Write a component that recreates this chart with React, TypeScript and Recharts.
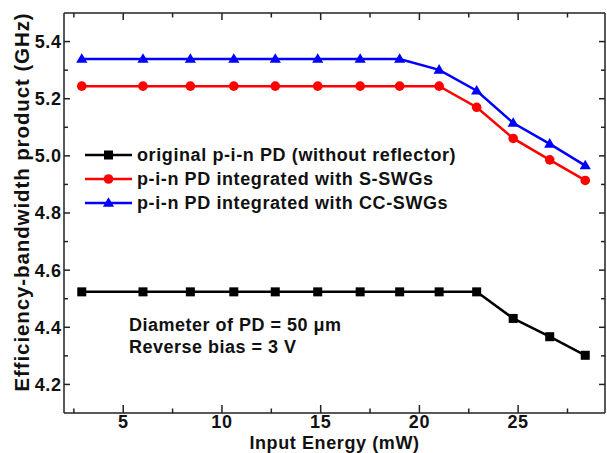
import React from 'react';
import { LineChart, Line, XAxis, YAxis, Legend } from 'recharts';

// ---- data ----
const inputEnergy = [2.9, 6.0, 8.4, 10.6, 12.7, 14.85, 17.0, 19.0, 21.0, 22.9, 24.75, 26.6, 28.4];
const originalPD = [4.524, 4.524, 4.524, 4.524, 4.524, 4.524, 4.524, 4.524, 4.524, 4.524, 4.431, 4.367, 4.302];
const sSWG = [5.244, 5.244, 5.244, 5.244, 5.244, 5.244, 5.244, 5.244, 5.244, 5.17, 5.061, 4.986, 4.914];
const ccSWG = [5.339, 5.339, 5.339, 5.339, 5.339, 5.339, 5.339, 5.339, 5.301, 5.228, 5.115, 5.042, 4.966];

const seriesNames = [
  'original p-i-n PD (without reflector)',
  'p-i-n PD integrated with S-SWGs',
  'p-i-n PD integrated with CC-SWGs',
];
const seriesKeys = ['orig', 'ssw', 'ccsw'];
const seriesColors = ['#000000', '#ff0000', '#0000ff'];

const xTicks = [2.5, 5, 7.5, 10, 12.5, 15, 17.5, 20, 22.5, 25, 27.5];
const xTickLabels = [5, 10, 15, 20, 25];
const yTicks = [4.2, 4.3, 4.4, 4.5, 4.6, 4.7, 4.8, 4.9, 5.0, 5.1, 5.2, 5.3, 5.4];
const yTickLabels = [4.2, 4.4, 4.6, 4.8, 5.0, 5.2, 5.4];
const xDomain = [2, 29.4];
const yDomain = [4.1, 5.5];

const xTitle = 'Input Energy (mW)';
const yTitle = 'Efficiency-bandwidth product (GHz)';
const noteLines = ['Diameter of PD = 50 \u03bcm', 'Reverse bias = 3 V'];

const data = inputEnergy.map((x, i) => ({ x, orig: originalPD[i], ssw: sSWG[i], ccsw: ccSWG[i] }));

// ---- styles ----
const FONT = "'Liberation Sans', Arial, Helvetica, sans-serif";
const AX = '#222222';
const textStyle: React.CSSProperties = {
  fontFamily: FONT,
  fontWeight: 700,
  fontSize: 18,
  letterSpacing: '0.6px',
  fill: '#111111',
};

const inList = (v: number, list: number[]) => list.some((l) => Math.abs(l - v) < 1e-6);

const BottomTick = (p: any) => {
  const { x, y, payload } = p;
  const v = Number(payload.value);
  const major = inList(v, xTickLabels);
  return (
    <g>
      <line x1={x} x2={x} y1={y} y2={y - (major ? 8 : 4.5)} stroke={AX} strokeWidth={1.5} />
      {major && (
        <text x={x} y={y + 15} textAnchor="middle" style={textStyle}>
          {String(v)}
        </text>
      )}
    </g>
  );
};

const TopTick = (p: any) => {
  const { x, y, payload } = p;
  const v = Number(payload.value);
  const major = inList(v, xTickLabels);
  return <line x1={x} x2={x} y1={y} y2={y + (major ? 7 : 4.5)} stroke={AX} strokeWidth={1.5} />;
};

const LeftTick = (p: any) => {
  const { x, y, payload } = p;
  const v = Number(payload.value);
  const major = inList(v, yTickLabels);
  return (
    <g>
      <line x1={x} x2={x + (major ? 6 : 4)} y1={y} y2={y} stroke={AX} strokeWidth={1.5} />
      {major && (
        <text x={x - 2.5} y={y + 6.4} textAnchor="end" style={textStyle}>
          {v.toFixed(1)}
        </text>
      )}
    </g>
  );
};

const RightTick = (p: any) => {
  const { x, y, payload } = p;
  const v = Number(payload.value);
  const major = inList(v, yTickLabels);
  return <line x1={x} x2={x - (major ? 6 : 4)} y1={y} y2={y} stroke={AX} strokeWidth={1.5} />;
};

const renderMarker = (key: string, cx: number, cy: number, k: string | number) => {
  if (key === 'orig') {
    return <rect key={k} x={cx - 4.5} y={cy - 4.5} width={9} height={9} fill={seriesColors[0]} />;
  }
  if (key === 'ssw') {
    return <circle key={k} cx={cx} cy={cy} r={4.8} fill={seriesColors[1]} />;
  }
  return (
    <path
      key={k}
      d={`M${cx},${cy - 5.8} L${cx + 5.6},${cy + 3.8} L${cx - 5.6},${cy + 3.8} Z`}
      fill={seriesColors[2]}
    />
  );
};

const makeDot = (key: string) => (p: any) => renderMarker(key, p.cx, p.cy, `${key}-${p.index}`);

const renderLegend = () => (
  <div style={{ display: 'flex', flexDirection: 'column' }}>
    {seriesKeys.map((key, i) => (
      <div key={key} style={{ display: 'flex', alignItems: 'center', height: 24 }}>
        <svg width={52} height={24} style={{ display: 'block' }}>
          <line x1={5} x2={52} y1={12} y2={12} stroke={seriesColors[i]} strokeWidth={2.5} />
          {renderMarker(key, 28.5, 12, key)}
        </svg>
        <span
          style={{
            marginLeft: 5,
            fontFamily: FONT,
            fontWeight: 700,
            fontSize: 18,
            letterSpacing: '0.6px',
            color: '#111111',
            whiteSpace: 'nowrap',
            lineHeight: '24px',
          }}
        >
          {seriesNames[i]}
        </span>
      </div>
    ))}
  </div>
);

const XTitle = (p: any) => {
  const vb = p.viewBox || { x: 64, y: 413, width: 541, height: 40 };
  return (
    <text x={vb.x + vb.width / 2} y={vb.y + 35.5} textAnchor="middle" style={textStyle}>
      {xTitle}
    </text>
  );
};

const YTitle = (p: any) => {
  const vb = p.viewBox || { x: 0, y: 13, width: 64, height: 400 };
  const cx = vb.x + 29;
  const cy = vb.y + vb.height / 2 - 11;
  return (
    <text
      x={cx}
      y={cy}
      textAnchor="middle"
      transform={`rotate(-90, ${cx}, ${cy})`}
      style={{ ...textStyle, fontSize: 20.5, letterSpacing: '0.9px' }}
    >
      {yTitle}
    </text>
  );
};

export default function App() {
  return (
    <div style={{ position: 'absolute', left: 0, top: 0, width: 607, height: 453, background: '#fff' }}>
      <LineChart width={607} height={453} data={data} margin={{ top: 0, right: 0, bottom: 0, left: 0 }}>
        <XAxis
          xAxisId="bottom"
          dataKey="x"
          type="number"
          domain={xDomain}
          ticks={xTicks}
          interval={0}
          allowDataOverflow
          height={40}
          tickSize={0}
          tickMargin={0}
          tickLine={false}
          axisLine={{ stroke: AX, strokeWidth: 1.5 }}
          tick={BottomTick}
          label={XTitle}
        />
        <XAxis
          xAxisId="top"
          orientation="top"
          dataKey="x"
          type="number"
          domain={xDomain}
          ticks={xTicks}
          interval={0}
          allowDataOverflow
          height={13}
          tickSize={0}
          tickMargin={0}
          tickLine={false}
          axisLine={{ stroke: AX, strokeWidth: 1.5 }}
          tick={TopTick}
        />
        <YAxis
          yAxisId="left"
          type="number"
          domain={yDomain}
          ticks={yTicks}
          interval={0}
          allowDataOverflow
          width={64}
          tickSize={0}
          tickMargin={0}
          tickLine={false}
          axisLine={{ stroke: AX, strokeWidth: 1.5 }}
          tick={LeftTick}
          label={YTitle}
        />
        <YAxis
          yAxisId="right"
          orientation="right"
          type="number"
          domain={yDomain}
          ticks={yTicks}
          interval={0}
          allowDataOverflow
          width={2}
          tickSize={0}
          tickMargin={0}
          tickLine={false}
          axisLine={{ stroke: AX, strokeWidth: 1.5 }}
          tick={RightTick}
        />
        <Legend
          layout="vertical"
          align="center"
          verticalAlign="middle"
          content={renderLegend}
          wrapperStyle={{ position: 'absolute', left: 80, top: 143, width: 440, height: 72 }}
        />
        {seriesKeys.map((key, i) => (
          <Line
            key={key}
            xAxisId="bottom"
            yAxisId="left"
            dataKey={key}
            name={seriesNames[i]}
            stroke={seriesColors[i]}
            strokeWidth={2.5}
            dot={makeDot(key)}
            activeDot={false}
            isAnimationActive={false}
          />
        ))}
        <text x={129} y={331} style={{ ...textStyle, letterSpacing: '0.5px' }}>
          {noteLines[0]}
        </text>
        <text x={129} y={352.7} style={{ ...textStyle, letterSpacing: '0.5px' }}>
          {noteLines[1]}
        </text>
      </LineChart>
    </div>
  );
}
